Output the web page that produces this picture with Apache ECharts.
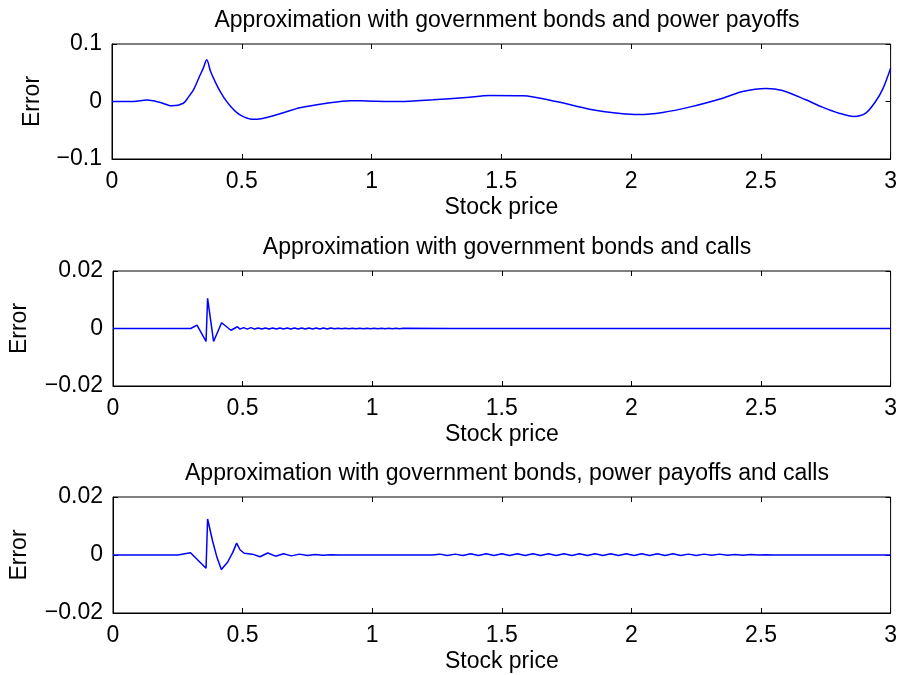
<!DOCTYPE html>
<html>
<head>
<meta charset="utf-8">
<script src="https://cdn.jsdelivr.net/npm/echarts@6/dist/echarts.min.js"></script>
<style>
  html, body { margin: 0; padding: 0; background: #fff; }
  #chart { width: 900px; height: 675px; }
</style>
</head>
<body>
<div id="chart"></div>
<script>
// x ticks shared by all three panels
var priceTicks = [0, 0.5, 1, 1.5, 2, 2.5, 3];

// panel 1: government bonds and power payoffs
var priceBondsPower = [0, 0.083, 0.134, 0.186, 0.231, 0.275, 0.295, 0.314, 0.327, 0.34,
  0.352, 0.365, 0.38, 0.4, 0.42, 0.44, 0.46, 0.48, 0.5, 0.532,
  0.56, 0.6, 0.65, 0.724, 0.827, 0.917, 0.981, 1.109, 1.237,
  1.365, 1.455, 1.583, 1.711, 1.84, 1.968, 2.032, 2.122, 2.224, 2.353,
  2.43, 2.519, 2.583, 2.673, 2.737, 2.801, 2.859, 2.904, 2.942, 2.97, 3.0];
var errBondsPower = [0, 0, 0.0024, -0.0017, -0.0075, -0.003, 0.008, 0.0203, 0.033, 0.0464,
  0.0585, 0.0725, 0.052, 0.032, 0.015, 0.001, -0.01, -0.019, -0.025, -0.0303,
  -0.0307, -0.0275, -0.021, -0.011, -0.003, 0.0015, 0.001, 0, 0.003,
  0.007, 0.0105, 0.0099, 0, -0.0133, -0.0214, -0.0226, -0.019, -0.0098, 0.0058,
  0.0174, 0.0226, 0.0191, 0.003, -0.0098, -0.0203, -0.026, -0.0203, 0, 0.022, 0.058];

// panel 2: government bonds and calls
var priceBondsCalls = [0, 0.27, 0.3, 0.324, 0.359, 0.365, 0.388, 0.419, 0.455, 0.48,
  0.49, 0.504, 0.518, 0.532, 0.546, 0.56, 0.574, 0.588, 0.602, 0.616,
  0.63, 0.644, 0.658, 0.672, 0.686, 0.7, 0.714, 0.728, 0.742, 0.756,
  0.77, 0.784, 0.798, 0.812, 0.826, 0.84, 0.854, 0.868, 0.882, 0.896,
  0.91, 0.924, 0.938, 0.952, 0.966, 0.98, 0.994, 1.008, 1.022, 1.036,
  1.05, 1.064, 1.078, 1.092, 1.106, 1.12, 1.3, 3.0];
var errBondsCalls = [0, 0, 0, 0.0012, -0.0045, 0.0105, -0.0045, 0.002, -0.0006, 0.0006,
  -0.0002, 0.0003, -0.0002, 0.0003, -0.0002, 0.0002, -0.0002, 0.0002, -0.0002, 0.0002,
  -0.0002, 0.0002, -0.0002, 0.0002, -0.0002, 0.0002, -0.0002, 0.0002, -0.0002, 0.0002,
  -0.0002, 0.0002, -0.0002, 0.0002, -0.0002, 0.0002, -0.0001, 0.0001, -0.0001, 0.0001,
  -0.0001, 0.0001, -0.0001, 0.0001, -0.0001, 0.0001, -0.0001, 0.0001, -0.0001, 0.0001,
  -0.0001, 0.0001, -0.0001, 0.0001, -0.0001, 0.0001, 0, 0];

// panel 3: government bonds, power payoffs and calls
var priceAll = [0, 0.25, 0.299, 0.359, 0.365, 0.384, 0.401, 0.418, 0.442, 0.462,
  0.477, 0.49, 0.506, 0.538, 0.567, 0.597, 0.627, 0.658, 0.688, 0.719,
  0.75, 0.78, 0.81, 0.84, 0.87, 1.23, 1.26, 1.29, 1.32, 1.35,
  1.38, 1.41, 1.44, 1.47, 1.5, 1.53, 1.56, 1.59, 1.62, 1.65,
  1.68, 1.71, 1.74, 1.77, 1.8, 1.83, 1.86, 1.89, 1.92, 1.95,
  1.98, 2.01, 2.04, 2.07, 2.1, 2.13, 2.16, 2.19, 2.22, 2.25,
  2.28, 2.31, 2.34, 2.37, 2.4, 2.43, 2.46, 2.49, 2.52, 2.55, 3.0];
var errAll = [0, 0, 0.0008, -0.0046, 0.0124, 0.0049, -0.0008, -0.005, -0.0025, 0.0009,
  0.0041, 0.0018, 0.0006, 0.0003, -0.0006, 0.0007, -0.0004, 0.0004, -0.0003, 0.0003,
  -0.0002, 0.0002, -0.0001, 0.0001, 0, 0, 0.0003, -0.0002, 0.0003, -0.0002,
  0.0004, -0.0002, 0.0004, -0.0002, 0.0004, -0.0002, 0.0004, -0.0002, 0.0004, -0.0002,
  0.0004, -0.0002, 0.0004, -0.0002, 0.0004, -0.0002, 0.0004, -0.0002, 0.0004, -0.0002,
  0.0004, -0.0002, 0.0004, -0.0002, 0.0004, -0.0002, 0.0004, -0.0002, 0.0003, -0.0002,
  0.0003, -0.0001, 0.0003, -0.0001, 0.0002, -0.0001, 0.0002, 0, 0.0001, 0, 0];

var titles = [
  "Approximation with government bonds and power payoffs",
  "Approximation with government bonds and calls",
  "Approximation with government bonds, power payoffs and calls"
];
var yRanges = [[-0.1, 0.1, 0.1], [-0.02, 0.02, 0.02], [-0.02, 0.02, 0.02]];

var FONT = "'Liberation Sans', Arial, Helvetica, sans-serif";
var FS = 23;
var panelTops = [44, 271, 497];
var panelHeights = [115, 115, 116];
var titleTops = [4, 231, 457];
var errorGaps = [68, 82, 82];

function pairs(xs, ys) {
  var out = [];
  for (var i = 0; i < xs.length; i++) out.push([xs[i], ys[i]]);
  return out;
}
function fmtY(v) {
  if (v === 0) return "0";
  return String(+v.toFixed(4)).replace("-", "\u2212");
}

var chart = echarts.init(document.getElementById("chart"));
var grids = [], xAxes = [], yAxes = [], series = [], titleList = [];
var seriesData = [
  pairs(priceBondsPower, errBondsPower),
  pairs(priceBondsCalls, errBondsCalls),
  pairs(priceAll, errAll)
];

for (var p = 0; p < 3; p++) {
  grids.push({
    left: 112, right: 8, top: panelTops[p], height: panelHeights[p],
    show: true, borderColor: "#000", borderWidth: 1, backgroundColor: "#fff"
  });
  titleList.push({
    text: titles[p], left: 502, top: titleTops[p], textAlign: "center",
    textStyle: { fontFamily: FONT, fontSize: FS, fontWeight: "normal", color: "#000" }
  });
  // bottom x axis (labels) and top x axis (ticks only)
  xAxes.push({
    type: "value", gridIndex: p, min: 0, max: 3, interval: 0.5,
    name: "Stock price", nameLocation: "middle", nameGap: 37,
    nameTextStyle: { fontFamily: FONT, fontSize: FS, color: "#000" },
    axisLine: { show: true, onZero: false, lineStyle: { color: "#000", width: 1 } },
    axisTick: { show: true, inside: true, length: 5, lineStyle: { color: "#000" } },
    axisLabel: { fontFamily: FONT, fontSize: FS, color: "#000", margin: 11 },
    splitLine: { show: false }
  });
  xAxes.push({
    type: "value", gridIndex: p, min: 0, max: 3, interval: 0.5, position: "top",
    axisLine: { show: false, onZero: false },
    axisTick: { show: true, inside: true, length: 5, lineStyle: { color: "#000" } },
    axisLabel: { show: false }, splitLine: { show: false }
  });
  var r = yRanges[p];
  yAxes.push({
    type: "value", gridIndex: p, min: r[0], max: r[1], interval: r[2],
    name: "Error", nameLocation: "middle", nameGap: errorGaps[p],
    nameTextStyle: { fontFamily: FONT, fontSize: FS, color: "#000" },
    axisLine: { show: true, onZero: false, lineStyle: { color: "#000", width: 1 } },
    axisTick: { show: true, inside: true, length: 5, lineStyle: { color: "#000" } },
    axisLabel: { fontFamily: FONT, fontSize: FS, color: "#000", margin: 10, formatter: fmtY },
    splitLine: { show: false }
  });
  yAxes.push({
    type: "value", gridIndex: p, min: r[0], max: r[1], interval: r[2], position: "right",
    axisLine: { show: false, onZero: false },
    axisTick: { show: true, inside: true, length: 5, lineStyle: { color: "#000" } },
    axisLabel: { show: false }, splitLine: { show: false }
  });
  series.push({
    type: "line", xAxisIndex: p * 2, yAxisIndex: p * 2,
    data: seriesData[p], showSymbol: false, symbol: "none",
    smooth: p === 0 ? 0.3 : false,
    lineStyle: { color: "#0000ff", width: 1.5 }, animation: false
  });
}

chart.setOption({
  animation: false,
  backgroundColor: "#fff",
  title: titleList,
  grid: grids,
  xAxis: xAxes,
  yAxis: yAxes,
  series: series
});
</script>
</body>
</html>
